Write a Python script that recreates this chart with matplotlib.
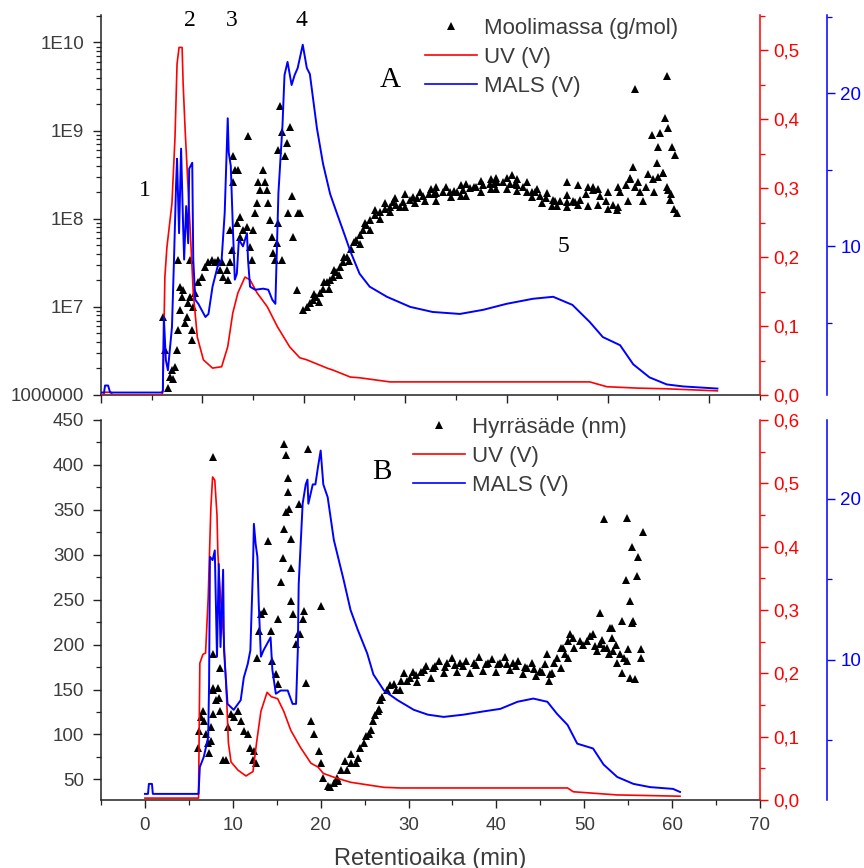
import numpy as np
import matplotlib.pyplot as plt
from matplotlib.ticker import MultipleLocator, FixedLocator, FixedFormatter, FuncFormatter, LogLocator, NullFormatter
from matplotlib.lines import Line2D

plt.rcParams['font.family'] = ['Liberation Sans', 'DejaVu Sans']

# ---- panel A: molar mass run ----
uvA_t = [0, 0.2, 0.4, 1.0, 1.1, 6.0, 6.1, 6.3, 6.5, 7.0, 7.3, 7.5, 7.7, 8.0, 8.1, 8.3, 8.5, 8.8,
         9.1, 9.5, 10.1, 11.0, 11.9, 12.5, 13.0, 13.5, 14.2, 14.7, 15.4, 16.4, 17.4, 18.6, 19.6,
         20.3, 22.3, 22.9, 24.6, 25.5, 28.5, 48.2, 49.9, 52.9, 55.8, 60.8]
uvA = [0.0, 0.0, 0.004, 0.004, 0.0, 0.0, 0.004, 0.171, 0.214, 0.278, 0.374, 0.48, 0.504, 0.504,
       0.452, 0.384, 0.326, 0.239, 0.148, 0.084, 0.051, 0.039, 0.041, 0.07, 0.119, 0.148, 0.171,
       0.167, 0.148, 0.128, 0.099, 0.07, 0.054, 0.051, 0.039, 0.036, 0.026, 0.025, 0.019, 0.019,
       0.012, 0.01, 0.009, 0.006]

malsA_t = [0, 0.3, 0.4, 0.7, 0.9, 6.0, 6.1, 6.2, 6.4, 6.6, 7.0, 7.2, 7.4, 7.5, 7.7, 7.9, 8.1, 8.2,
           8.4, 8.6, 8.7, 9.0, 9.1, 9.3, 9.6, 10.3, 10.6, 11.0, 11.5, 11.9, 12.2, 12.5, 12.6, 12.8,
           13.0, 13.2, 13.4, 13.6, 14.0, 14.4, 14.5, 14.7, 15.2, 16.0, 16.5, 16.9, 17.2, 17.5, 17.9,
           18.1, 18.4, 18.8, 19.1, 19.4, 19.9, 20.3, 20.6, 21.3, 21.9, 22.6, 23.3, 23.9, 24.6, 25.5,
           26.5, 28.2, 30.5, 32.7, 35.4, 37.7, 40.0, 42.6, 44.6, 46.5, 48.2, 49.5, 51.2, 52.5, 54.1,
           55.8, 57.4, 60.8]
malsA = [0.46, 0.46, 0.92, 0.92, 0.46, 0.46, 0.59, 5.39, 2.57, 1.91, 4.74, 9.14, 13.95, 15.72,
         10.86, 16.38, 11.32, 9.14, 12.63, 10.2, 15.07, 15.46, 9.14, 6.51, 6.25, 5.39, 5.59, 7.37,
         8.68, 9.14, 12.17, 18.36, 16.12, 15.26, 11.32, 7.83, 8.22, 10.46, 10.0, 10.86, 9.14, 7.37,
         7.17, 7.24, 7.17, 6.51, 6.25, 13.49, 17.89, 21.18, 22.04, 20.53, 21.18, 21.64, 23.16,
         21.64, 21.25, 17.7, 15.39, 13.42, 12.1, 10.99, 9.67, 8.22, 7.37, 6.71, 6.05, 5.72, 5.59,
         5.86, 6.25, 6.58, 6.71, 6.18, 5.07, 4.08, 3.55, 2.30, 1.45, 0.99, 0.86, 0.72]

mw_t = [6.1, 6.3, 6.6, 6.8, 7.0, 7.1, 7.3, 7.5, 7.6, 7.6, 7.8, 7.8, 8.0, 8.1, 8.3, 8.5, 8.6, 8.8,
        9.0, 9.0, 8.8, 9.1, 9.3, 9.6, 10.0, 10.3, 10.6, 10.9, 11.2, 11.5, 11.7, 11.9, 12.0, 12.4,
        12.5, 12.7, 12.9, 13.0, 13.2, 13.0, 12.7, 13.5, 13.4, 13.7, 13.7, 14.0, 14.4, 14.5, 14.7,
        14.9, 15.0, 15.2, 15.4, 15.5, 15.7, 16.0, 16.2, 16.4, 16.5, 16.7, 16.9, 17.0, 17.2, 17.4,
        17.5, 17.5, 17.7, 17.9, 17.9, 18.1, 18.3, 18.4, 18.6, 18.8, 18.9, 19.3, 19.4, 19.6,
        19.9, 20.3, 20.6, 20.9, 21.2, 21.6, 21.9, 22.3, 22.6, 22.9, 23.2, 23.6, 23.9, 24.3, 24.7,
        25.2, 25.5, 25.8, 26.1, 26.5, 27.0, 27.5, 28.0, 28.5, 29.1, 29.8, 30.5, 31.2, 31.8, 32.4,
        33.0, 33.7, 34.4, 35.1, 35.7, 36.4, 37.0, 37.7, 38.4, 39.1, 39.7, 40.3, 41.0, 41.6, 42.5,
        43.3, 43.9, 44.6, 45.3, 45.96, 46.6, 47.2, 47.8, 48.5, 49.2, 49.8, 50.5, 51.2, 51.8, 52.2,
        52.7, 53.2, 53.8, 54.4, 54.9, 55.4,
        30.0, 33.0, 36.0, 39.0, 40.5, 42.0, 30.0, 33.0, 36.0, 39.0, 42.0, 45.0, 48.0, 50.0,
        45.96, 48.5, 52.7, 55.8, 55.6, 55.9, 54.3, 55.1, 54.9, 56.3, 56.6, 52.5, 52.2, 56.1, 55.9,
        56.8, 50.9, 54.8, 55.4, 55.8, 56.5, 56.2]
mw = [7.7e6, 3.2e6, 1.2e6, 1.6e6, 1.9e6, 1.5e6, 2.1e6, 3.2e6, 5.5e6, 3.4e7, 9.2e6, 1.7e7, 1.3e7,
      1.56e7, 6.6e6, 7.7e6, 1.1e7, 1.3e7, 5.5e6, 4.2e6, 3.4e7, 1.0e7, 1.44e7, 1.9e7, 2.2e7,
      2.85e7, 3.2e7, 3.4e7, 3.2e7, 3.4e7, 2.6e7, 3.2e7, 2.2e7, 2.6e7, 2.0e7, 3.2e7, 4.4e7,
      5.1e8, 3.6e8, 2.6e8, 7.5e7, 3.6e8, 9.0e7, 1.05e8, 6.2e7, 7.5e7, 8.1e7, 8.6e8, 4.8e7,
      3.4e7, 7.5e7, 1.17e8, 1.52e8, 2.6e8, 2.1e8, 3.6e8, 2.6e8, 2.1e8, 1.52e8, 9.7e7, 6.2e7,
      4.1e7, 3.4e7, 5.3e7, 9.0e7, 6.1e8, 1.9e9, 9.7e8, 3.4e7, 5.1e8, 7.3e8, 1.17e8, 1.1e9,
      1.8e8, 6.2e7, 1.56e7, 1.17e8, 1.17e8,
      9.2e6, 1.0e7, 1.1e7, 1.2e7, 1.3e7, 1.44e7, 1.6e7, 1.9e7, 2.0e7, 2.2e7, 2.5e7, 2.85e7,
      3.2e7, 3.7e7, 4.5e7, 5.8e7, 6.5e7, 7.5e7, 8.5e7, 9.7e7, 1.1e8, 1.2e8, 1.3e8, 1.37e8,
      1.45e8, 1.56e8, 1.65e8, 1.73e8, 1.8e8, 1.9e8, 1.95e8, 2.0e8, 2.0e8, 2.0e8, 2.1e8, 2.25e8,
      2.3e8, 2.4e8, 2.5e8, 2.6e8, 2.6e8, 2.5e8, 2.4e8, 2.3e8, 2.0e8, 1.8e8, 1.7e8, 1.64e8,
      1.6e8, 1.56e8, 1.6e8, 1.64e8, 1.9e8, 2.1e8, 1.8e8, 1.6e8, 1.44e8, 2.0e8, 2.4e8, 2.8e8,
      2.3e8, 2.0e8, 2.3e8, 2.8e8, 3.0e8, 3.3e8,
      1.9e8, 2.3e8, 2.5e8, 2.9e8, 3.1e8, 2.6e8, 1.35e8, 1.6e8, 1.8e8, 2.2e8, 2.0e8, 1.4e8,
      1.4e8, 1.3e8,
      2.6e8, 2.3e8, 3.0e9, 4.2e9, 1.4e9, 1.08e9, 9.0e8, 9.3e8, 6.6e8, 6.6e8, 5.3e8, 3.9e8,
      2.9e8, 1.64e8, 2.1e8, 1.17e8, 1.26e8, 4.3e8, 3.3e8, 2.3e8, 1.3e8, 1.9e8]

# upper and lower edges of the dense molar-mass band
mw_edge_t = [21.0, 22.0, 23.0, 24.0, 25.0, 26.0, 27.0, 28.0, 29.0, 31.5, 32.5, 34.0, 35.5, 37.5,
             38.5, 40.0, 41.0, 43.0, 44.0, 46.0, 47.0, 48.0, 49.0, 50.0, 51.0, 53.0, 54.0,
             21.5, 22.5, 23.5, 24.5, 25.5, 26.5, 27.5, 28.5, 29.5, 31.0, 32.0, 34.5, 35.5, 37.5,
             38.5, 40.0, 41.0, 42.5, 43.5, 44.5, 46.0, 47.0, 49.0, 51.0, 52.0, 53.5, 54.5,
             28.8, 30.8, 32.8, 34.8, 36.8, 38.8, 40.8, 42.8, 44.8, 46.8]
mw_edge = [1.4e7, 1.9e7, 2.6e7, 3.7e7, 5.5e7, 9.0e7, 1.25e8, 1.5e8, 1.7e8, 2.0e8, 2.15e8, 2.3e8,
           2.4e8, 2.7e8, 2.85e8, 2.9e8, 2.8e8, 2.15e8, 1.95e8, 1.85e8, 2.4e8, 2.3e8, 2.2e8, 2.0e8,
           2.3e8, 2.6e8, 3.2e8,
           1.15e7, 1.6e7, 2.3e7, 3.3e7, 5.2e7, 7.5e7, 1.0e8, 1.2e8, 1.35e8, 1.5e8, 1.6e8, 1.75e8,
           1.8e8, 2.0e8, 2.15e8, 2.2e8, 2.05e8, 1.75e8, 1.5e8, 1.4e8, 1.35e8, 1.45e8, 1.45e8,
           1.35e8, 1.6e8, 1.6e8, 2.0e8,
           1.55e8, 1.75e8, 1.9e8, 2.05e8, 2.3e8, 2.5e8, 2.5e8, 2.0e8, 1.6e8, 1.55e8]

# ---- panel B: radius of gyration run ----
uvB_t = [0.0, 6.1, 6.25, 6.6, 6.9, 7.2, 7.5, 7.7, 7.95, 8.2, 8.3, 8.6, 9.0, 9.3, 9.5, 9.8, 10.6,
         11.5, 12.3, 12.7, 13.2, 13.9, 14.4, 15.1, 15.8, 16.6, 17.7, 18.9, 19.7, 20.3, 21.5, 23.4,
         27.2, 29.1, 48.1, 48.75, 53.75, 60.9]
uvB = [0.003, 0.003, 0.216, 0.23, 0.232, 0.32, 0.46, 0.51, 0.505, 0.45, 0.39, 0.32, 0.25, 0.16,
       0.09, 0.06, 0.047, 0.038, 0.045, 0.09, 0.14, 0.17, 0.163, 0.16, 0.14, 0.11, 0.083, 0.058,
       0.052, 0.042, 0.036, 0.028, 0.02, 0.019, 0.019, 0.013, 0.008, 0.006]

malsB_t = [0.0, 0.35, 0.45, 0.8, 0.9, 6.1, 6.25, 6.7, 7.2, 7.3, 7.4, 7.7, 7.95, 8.2, 8.4, 8.6, 8.9,
           9.0, 9.2, 9.4, 10.1, 10.9, 11.25, 11.7, 12.0, 12.3, 12.4, 12.6, 12.8, 12.95, 13.2,
           13.5, 14.0, 14.3, 14.5, 14.9, 15.45, 16.25, 16.8, 17.2, 17.4, 17.5, 17.95, 18.3, 18.5,
           18.6, 19.1, 19.4, 19.7, 20.0, 20.3, 20.8, 21.5, 22.6, 23.4, 24.2, 25.3, 26.0, 27.2,
           28.75, 30.6, 32.2, 34.0, 36.25, 38.5, 40.45, 42.4, 44.2, 45.8, 46.9, 48.1, 49.2, 51.0,
           52.2, 53.75, 55.6, 57.5, 60.1, 60.9]
malsB = [1.68, 1.68, 2.3, 2.3, 1.68, 1.68, 3.35, 3.98, 5.2, 8.5, 16.4, 16.2, 16.8, 10.2, 15.96,
         10.8, 15.6, 10.6, 8.9, 7.27, 6.9, 7.5, 8.9, 9.75, 10.6, 15.8, 18.45, 17.2, 16.4, 13.5,
         10.2, 10.6, 11.1, 11.4, 9.4, 7.9, 8.1, 8.1, 7.27, 7.27, 10.6, 14.7, 19.7, 20.9, 21.2,
         19.7, 20.9, 20.9, 22.0, 23.0, 20.9, 20.1, 17.45, 15.0, 13.1, 11.9, 10.4, 9.1, 8.1, 7.5,
         6.9, 6.6, 6.46, 6.6, 6.8, 6.96, 7.4, 7.6, 7.4, 6.65, 5.96, 4.8, 4.5, 3.5, 2.73, 2.3, 2.1,
         1.99, 1.8]

rg_t = [6.0, 6.1, 6.4, 6.6, 6.7, 6.9, 7.2, 7.3, 7.5, 7.5, 7.8, 7.7, 7.8, 8.1, 8.3, 8.4, 8.6, 7.8,
        7.7, 8.6, 8.9, 9.2, 9.4, 9.8, 10.1, 10.6, 10.9, 11.25, 11.7, 12.0, 12.3, 12.4, 12.6, 12.8,
        12.95, 13.2, 13.5, 14.0, 14.3, 14.5, 14.9, 15.1, 15.2, 15.45, 15.7, 15.8, 16.0, 16.25,
        15.8, 16.0, 16.25, 16.4, 16.6, 16.6, 16.6, 16.9, 17.4, 17.2, 17.5, 17.7, 17.95, 18.1,
        18.6, 20.0, 18.3, 18.9, 19.2, 19.8, 20.0, 20.3, 20.8, 21.1, 21.5, 21.9, 22.3, 23.4, 24.2,
        24.9, 25.45, 26.0, 26.5, 26.8, 27.6, 28.3, 29.1, 30.2, 31.4, 32.8, 34.4, 35.9, 37.4,
        39.0, 40.45, 41.9, 43.5, 45.0, 46.1, 46.5, 46.9, 47.3, 48.1, 48.75, 49.5, 50.3, 51.0,
        51.8, 52.6, 53.3, 54.1, 54.9, 55.2,
        29.0, 29.5, 30.5, 31.0, 32.0, 32.5, 33.5, 34.0, 35.0, 35.5, 36.5, 37.0, 38.0, 38.5, 39.5,
        40.0, 41.0, 41.5, 42.5, 43.0, 44.0, 44.5, 45.5, 46.0,
        47.6, 48.4, 51.5, 52.2, 52.95, 53.2, 53.75, 54.3, 55.8, 56.4, 56.5, 51.8, 54.3, 55.45,
        55.2, 54.7, 56.0, 56.1, 55.45, 56.7, 54.9, 52.3, 48.1, 47.3, 53.2, 55.6, 45.8,
        22.8, 23.5, 24.5, 25.2, 26.2, 27.0, 27.9, 22.0, 23.0, 24.0, 25.7, 26.6, 28.6,
        29.8, 30.8, 31.8, 33.0, 34.2, 35.3, 36.2, 37.7, 38.8, 40.2, 41.2, 42.2, 43.2, 44.3, 45.2,
        46.3, 47.8, 48.8, 49.8, 50.6, 51.2, 52.0, 52.8, 53.6, 54.5, 55.0]
rg = [85, 104, 119, 126, 115, 101, 90, 79, 93, 108, 123, 152, 149, 138, 152, 141, 126, 409, 190,
      174, 71, 71, 108, 123, 119, 126, 115, 104, 101, 85, 71, 82, 68, 185, 215, 234, 237, 315,
      215, 182, 167, 156, 229, 270, 296, 329, 348, 370, 423, 411, 385, 351, 318, 285, 248, 234,
      212, 201, 356, 212, 229, 237, 418, 243, 157, 115, 101, 82, 68, 52, 43, 41, 46, 52, 60, 68,
      74, 90, 101, 115, 126, 138, 149, 156, 160, 163, 169, 174, 179, 179, 179, 179, 180, 179,
      174, 171, 167, 179, 185, 196, 204, 207, 204, 204, 212, 201, 196, 193, 190, 182, 163,
      150, 168, 170, 158, 176, 163, 182, 168, 185, 170, 182, 168, 186, 171, 184, 170, 186, 172,
      182, 167, 180, 165, 178, 160,
      196, 212, 193, 196, 218, 207, 179, 168, 162, 195, 185, 235, 226, 224, 248, 272, 276, 298,
      309, 325, 341, 340, 185, 174, 218, 226, 190,
      70, 78, 85, 98, 122, 142, 155, 48, 60, 68, 105, 128, 150,
      160, 166, 172, 176, 175, 177, 176, 177, 178, 178, 178, 176, 175, 173, 170,
      168, 190, 196, 200, 210, 198, 205, 190, 200, 185, 195]

GREY = '#3c3c3c'
W = 864
H = 868

fig = plt.figure(figsize=(8.64, 8.68), dpi=100)


def px_rect(x0, x1, y0, y1):
    return [x0 / W, 1 - y1 / H, (x1 - x0) / W, (y1 - y0) / H]


def style_base(ax):
    ax.spines['top'].set_visible(False)
    ax.spines['right'].set_visible(False)
    for s in ('left', 'bottom'):
        ax.spines[s].set_linewidth(1.1)
        ax.spines[s].set_color('#222222')
    ax.tick_params(which='major', direction='out', length=6, width=1.0, colors='#222222',
                   labelcolor=GREY, labelsize=13.5, pad=6)
    ax.tick_params(which='minor', direction='out', length=3.5, width=0.9, colors='#222222')


def style_twin(ax, color, pos=None):
    for s in ('left', 'top', 'bottom'):
        ax.spines[s].set_visible(False)
    ax.spines['right'].set_color(color)
    ax.spines['right'].set_linewidth(1.1)
    if pos is not None:
        ax.spines['right'].set_position(('axes', pos))
    ax.tick_params(which='major', direction='out', length=6, width=1.0, colors=color,
                   labelcolor=color, labelsize=13.5)
    ax.tick_params(which='minor', direction='out', length=3.5, width=0.9, colors=color)


comma = FuncFormatter(lambda v, p: ('%.1f' % v).replace('.', ','))
blue_pos = (827 - 101) / 659
MS = 6.3

# ---------- panel A ----------
axA = fig.add_axes(px_rect(101, 760, 15, 395))
style_base(axA)
axA.plot(mw_t + mw_edge_t, mw + mw_edge, '^', color='black', ms=MS, mew=0, zorder=3)
axA.set_yscale('log')
axA.set_ylim(1e6, 2.05e10)
axA.set_xlim(0, 65)
axA.yaxis.set_major_locator(FixedLocator([1e6, 1e7, 1e8, 1e9, 1e10]))
axA.yaxis.set_major_formatter(FixedFormatter(['1000000', '1E7', '1E8', '1E9', '1E10']))
axA.yaxis.set_minor_locator(LogLocator(base=10, subs=np.arange(2, 10)))
axA.yaxis.set_minor_formatter(NullFormatter())
axA.xaxis.set_major_locator(MultipleLocator(10))
axA.xaxis.set_minor_locator(MultipleLocator(5))
axA.tick_params(axis='x', which='both', labelbottom=False)

uvAx = axA.twinx()
style_twin(uvAx, 'red')
uvAx.plot(uvA_t, uvA, color='red', lw=1.2)
uvAx.set_ylim(0, 0.551)
uvAx.yaxis.set_major_locator(MultipleLocator(0.1))
uvAx.yaxis.set_minor_locator(MultipleLocator(0.05))
uvAx.yaxis.set_major_formatter(comma)

malsAx = axA.twinx()
style_twin(malsAx, 'blue', blue_pos)
malsAx.plot(malsA_t, malsA, color='blue', lw=1.4)
malsAx.set_ylim(0.3, 25.1)
malsAx.yaxis.set_major_locator(FixedLocator([10, 20]))
malsAx.yaxis.set_minor_locator(FixedLocator([5, 15, 25]))

# ---------- panel B ----------
axB = fig.add_axes(px_rect(101, 760, 420, 800))
style_base(axB)
axB.plot(rg_t, rg, '^', color='black', ms=MS, mew=0, zorder=3)
axB.set_ylim(27, 450)
axB.set_xlim(-5, 70)
axB.yaxis.set_major_locator(MultipleLocator(50))
axB.yaxis.set_minor_locator(MultipleLocator(25))
axB.xaxis.set_major_locator(MultipleLocator(10))
axB.xaxis.set_minor_locator(MultipleLocator(5))
axB.set_xlabel('Retentioaika (min)', fontsize=17, color=GREY, labelpad=10)

uvBx = axB.twinx()
style_twin(uvBx, 'red')
uvBx.plot(uvB_t, uvB, color='red', lw=1.2)
uvBx.set_ylim(0, 0.6)
uvBx.yaxis.set_major_locator(MultipleLocator(0.1))
uvBx.yaxis.set_minor_locator(MultipleLocator(0.05))
uvBx.yaxis.set_major_formatter(comma)

malsBx = axB.twinx()
style_twin(malsBx, 'blue', blue_pos)
malsBx.plot(malsB_t, malsB, color='blue', lw=1.4)
malsBx.set_ylim(1.3, 24.9)
malsBx.yaxis.set_major_locator(FixedLocator([10, 20]))
malsBx.yaxis.set_minor_locator(FixedLocator([5, 15, 25]))


# ---------- legends ----------
def add_legend(label, x0, ytop):
    handles = [Line2D([], [], ls='none', marker='^', color='black', ms=MS, mew=0),
               Line2D([], [], color='red', lw=1.2),
               Line2D([], [], color='blue', lw=1.2)]
    labels = [label, 'UV (V)', 'MALS (V)']
    leg = fig.legend(handles, labels, loc='upper left', bbox_to_anchor=(x0 / W, 1 - ytop / H),
                     frameon=False, fontsize=16, handlelength=2.35, handletextpad=0.3,
                     labelspacing=0.36, borderpad=0, borderaxespad=0)
    for t in leg.get_texts():
        t.set_color(GREY)


add_legend('Moolimassa (g/mol)', 425, 18)
add_legend('Hyrräsäde (nm)', 413, 417)

# ---------- peak labels ----------
serif = dict(family=['Liberation Serif', 'DejaVu Serif'], color='black', ha='center', va='center')
for s, x, y in [('1', 145, 190), ('2', 190, 20), ('3', 232, 20), ('4', 301, 20), ('5', 563, 247)]:
    fig.text(x / W, 1 - y / H, s, fontsize=17, **serif)
fig.text(390 / W, 1 - 80 / H, 'A', fontsize=21, **serif)
fig.text(382 / W, 1 - 472 / H, 'B', fontsize=21, **serif)

fig.savefig('out.png', dpi=100)
